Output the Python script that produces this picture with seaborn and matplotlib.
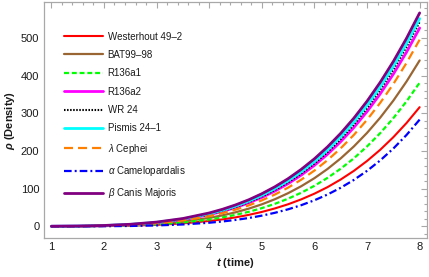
import matplotlib
matplotlib.use("Agg")
import matplotlib.pyplot as plt
import seaborn as sns
import pandas as pd
from matplotlib.ticker import MultipleLocator

# ---- data ----
t = [1.0, 1.5, 2.0, 2.5, 3.0, 3.5, 4.0, 4.25, 4.5, 4.75, 5.0, 5.25, 5.5, 5.75,
     6.0, 6.25, 6.5, 6.75, 7.0, 7.25, 7.5, 7.75, 8.0]

westerhout = [0.03, 0.2, 0.6, 1.7, 3.8, 7.7, 14.0, 18.3, 23.7, 30.3, 38.1, 47.5, 58.5, 71.5,
              86.6, 104.0, 124.2, 147.1, 173.3, 202.9, 236.4, 273.9, 316]
bat99 = [0.06, 0.3, 1.1, 3.0, 6.5, 12.6, 22.3, 29.0, 37.1, 46.8, 58.3, 71.9, 87.9, 106.4,
         127.7, 152.2, 180.2, 211.9, 247.8, 288.1, 333.4, 383.9, 440]
r136a1 = [0.04, 0.2, 0.9, 2.3, 5.1, 10.0, 18.0, 23.6, 30.3, 38.4, 48.2, 59.7, 73.3, 89.1,
          107.4, 128.6, 152.8, 180.4, 211.8, 247.1, 286.9, 331.3, 381]
r136a2 = [0.1, 0.6, 1.8, 4.5, 9.4, 17.7, 30.7, 39.3, 49.7, 62.1, 76.6, 93.5, 113.2, 135.8,
          161.7, 191.2, 224.6, 262.1, 304.3, 351.3, 403.8, 461.8, 526]
wr24 = [0.1, 0.6, 1.8, 4.6, 9.7, 18.3, 31.6, 40.5, 51.2, 63.9, 78.9, 96.4, 116.6, 140.0,
        166.6, 197.0, 231.4, 270.1, 313.5, 362.0, 416.0, 475.8, 542]
pismis = [0.1, 0.6, 2.0, 5.0, 10.4, 19.4, 33.3, 42.5, 53.6, 66.7, 82.1, 100.1, 120.8, 144.6,
          171.9, 202.7, 237.7, 276.9, 320.8, 369.8, 424.3, 484.5, 551]
lam_cep = [0.08, 0.4, 1.5, 3.7, 8.0, 15.4, 26.9, 34.7, 44.2, 55.4, 68.8, 84.4, 102.6, 123.7,
           147.9, 175.5, 207.0, 242.5, 282.5, 327.4, 377.5, 433.2, 495]
alp_cam = [0.01, 0.08, 0.3, 0.9, 2.3, 4.9, 9.5, 12.8, 16.9, 22.0, 28.3, 35.9, 45.1, 56.1,
           69.1, 84.4, 102.3, 123.1, 147.1, 174.7, 206.3, 242.2, 283]
bet_cma = [0.14, 0.7, 2.2, 5.4, 11.2, 20.7, 35.4, 45.1, 56.7, 70.3, 86.4, 105.0, 126.4, 151.1,
           179.1, 210.9, 246.7, 286.9, 331.8, 381.8, 437.2, 498.5, 566]

labels = ["Westerhout 49\u20132", "BAT99\u201398", "R136a1", "R136a2", "WR 24",
          "Pismis 24\u20131", r"$\lambda$ Cephei", r"$\alpha$ Camelopardalis",
          r"$\beta$ Canis Majoris"]
series = [westerhout, bat99, r136a1, r136a2, wr24, pismis, lam_cep, alp_cam, bet_cma]

x_ticks = [1, 2, 3, 4, 5, 6, 7, 8]
y_ticks = [0, 100, 200, 300, 400, 500]

# ---- styles ----
colors = ["#ff0000", "#996633", "#00ff00", "#ff00ff", "#000000",
          "#00ffff", "#ff8000", "#0000ff", "#800080"]
styles = ["-", "-", (0, (3.6, 2.0)), "-", (0, (1.1, 1.1)),
          "-", (0, (6.5, 3.6)), (0, (5.5, 2.2, 1.4, 2.2)), "-"]
widths = [1.5, 1.6, 1.6, 2.0, 1.5, 2.0, 1.6, 1.6, 2.0]

sns.set_theme(style="white")
plt.rcParams["font.family"] = ["Liberation Sans", "DejaVu Sans"]
plt.rcParams["mathtext.fontset"] = "custom"
plt.rcParams["mathtext.rm"] = "Liberation Sans"
plt.rcParams["mathtext.it"] = "Liberation Sans:italic"
plt.rcParams["mathtext.bf"] = "Liberation Sans:bold"
plt.rcParams["mathtext.bfit"] = "Liberation Sans:italic:bold"
plt.rcParams["lines.scale_dashes"] = False

fig = plt.figure(figsize=(4.29, 2.77), dpi=100)
ax = fig.add_axes([44 / 429, 1 - 238 / 277, 383 / 429, 236 / 277])

for ys, lab, c, ls, lw in zip(series, labels, colors, styles, widths):
    df = pd.DataFrame({"t": t, "rho": ys})
    sns.lineplot(data=df, x="t", y="rho", ax=ax, color=c, linestyle=ls,
                 linewidth=lw, label=lab)

ax.set_xlim(0.86, 8.14)
ax.set_ylim(-31, 595)
ax.set_xticks(x_ticks)
ax.set_yticks(y_ticks)
ax.xaxis.set_minor_locator(MultipleLocator(0.2))
ax.yaxis.set_minor_locator(MultipleLocator(20))

frame_col = "#a8a8a8"
for sp in ax.spines.values():
    sp.set_color(frame_col)
    sp.set_linewidth(0.9)
ax.tick_params(which="both", direction="in", top=True, right=True,
               color=frame_col, width=0.8, labelsize=8, labelcolor="#1a1a1a")
ax.tick_params(which="major", length=4)
ax.tick_params(which="minor", length=2.2)
ax.tick_params(axis="y", pad=3.4)
ax.tick_params(axis="x", pad=2.8)

ax.set_xlabel(r"$\mathbfit{t}$ (time)", fontsize=8, fontweight="bold",
              color="#1a1a1a", labelpad=3)
ax.set_ylabel(r"$\mathbfit{\rho}$ (Density)", fontsize=8, fontweight="bold",
              color="#1a1a1a", labelpad=3)

leg = ax.legend(loc="upper left", bbox_to_anchor=(0.052, 0.875), frameon=False,
                fontsize=7, handlelength=4.0, handletextpad=0.5,
                labelspacing=0.86, borderpad=0, borderaxespad=0)
for txt in leg.get_texts():
    txt.set_color("#1a1a1a")

fig.savefig("out.png", dpi=100)
